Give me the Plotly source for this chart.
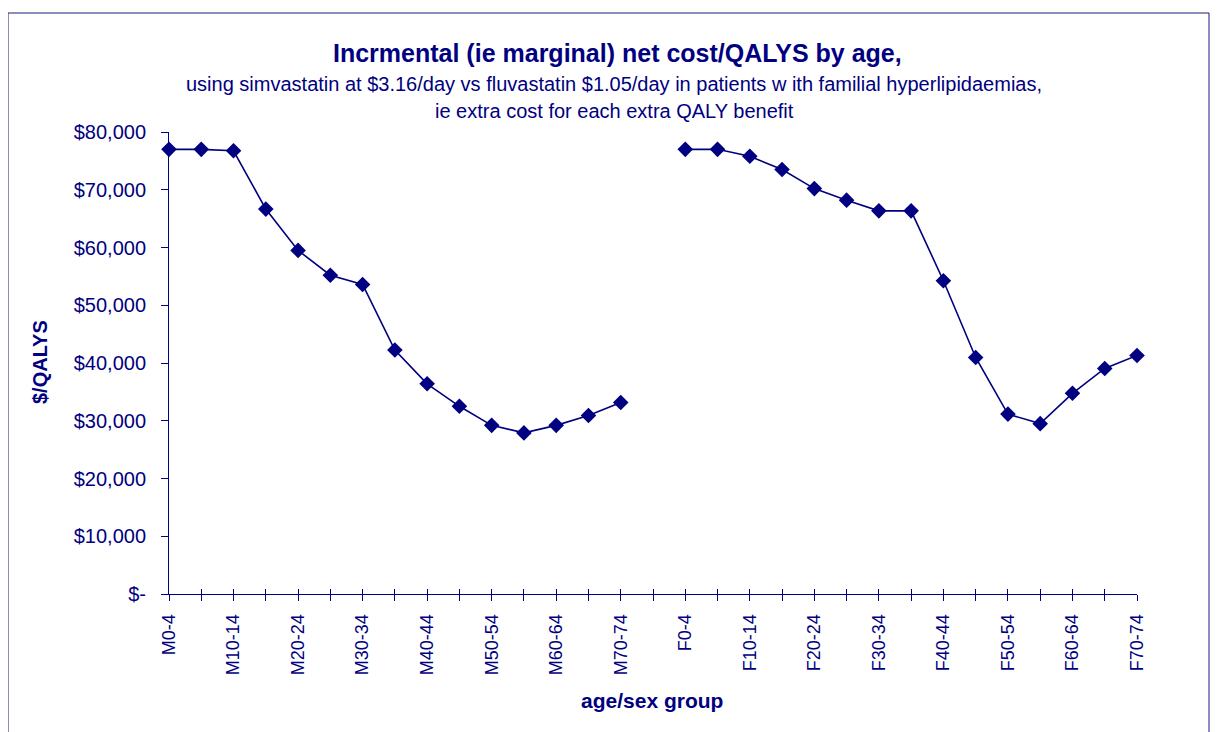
import plotly.graph_objects as go

male_groups = ["M0-4", "M5-9", "M10-14", "M15-19", "M20-24", "M25-29", "M30-34", "M35-39",
               "M40-44", "M45-49", "M50-54", "M55-59", "M60-64", "M65-69", "M70-74"]
female_groups = ["F0-4", "F5-9", "F10-14", "F15-19", "F20-24", "F25-29", "F30-34", "F35-39",
                 "F40-44", "F45-49", "F50-54", "F55-59", "F60-64", "F65-69", "F70-74"]
male_values = [77000, 77000, 76750, 66650, 59500, 55200, 53600, 42250,
               36400, 32500, 29200, 27900, 29200, 30900, 33150]
female_values = [77000, 77000, 75800, 73500, 70200, 68200, 66350, 66350,
                 54250, 40950, 31150, 29500, 34750, 39050, 41300]
gap_label = " "
y_tick_vals = [0, 10000, 20000, 30000, 40000, 50000, 60000, 70000, 80000]
y_tick_text = ["$-", "$10,000", "$20,000", "$30,000", "$40,000", "$50,000", "$60,000", "$70,000", "$80,000"]

categories = male_groups + [gap_label] + female_groups
shown = set(male_groups[::2] + female_groups[::2])
tick_text = [c if c in shown else "" for c in categories]

NAVY = "#000080"
FONT = "Arial, Liberation Sans, sans-serif"

fig = go.Figure()
for xs, ys in ((male_groups, male_values), (female_groups, female_values)):
    fig.add_trace(go.Scatter(x=xs, y=ys, mode="lines+markers",
                             line=dict(color=NAVY, width=1.6),
                             marker=dict(symbol="diamond", size=12, color=NAVY),
                             showlegend=False, cliponaxis=False))

# empty helper trace so an overlaid axis can draw the inner half of the crossing x ticks
fig.add_trace(go.Scatter(x=categories, y=[None] * len(categories), xaxis="x2",
                         mode="lines", showlegend=False, hoverinfo="skip"))

# page has an 8px body margin; figure sized so the plot area lands where the reference has it
fig.update_layout(
    width=1211, height=724,
    margin=dict(l=161, r=82, t=124, b=138),
    paper_bgcolor="white", plot_bgcolor="white",
    font=dict(family=FONT, color=NAVY),
    xaxis=dict(type="category", categoryorder="array", categoryarray=categories,
               range=[0, len(categories) - 1],
               tickmode="array", tickvals=categories, ticktext=tick_text,
               tickangle=-90, tickfont=dict(size=18, color=NAVY, family=FONT),
               ticks="outside", ticklen=6, tickcolor=NAVY, tickwidth=1,
               ticklabelstandoff=6,
               showline=True, linecolor=NAVY, linewidth=1, showgrid=False, zeroline=False),
    xaxis2=dict(type="category", categoryorder="array", categoryarray=categories,
                range=[0, len(categories) - 1], overlaying="x", side="bottom",
                tickmode="array", tickvals=categories, ticktext=[""] * len(categories),
                ticks="inside", ticklen=5, tickcolor=NAVY, tickwidth=1,
                showticklabels=False, showline=False, showgrid=False, zeroline=False),
    yaxis=dict(range=[0, 80000], tickmode="array", tickvals=y_tick_vals, ticktext=y_tick_text,
               tickfont=dict(size=20, color=NAVY, family=FONT),
               ticks="outside", ticklen=7, tickcolor=NAVY, tickwidth=1,
               ticklabelstandoff=11,
               showline=True, linecolor=NAVY, linewidth=1, showgrid=False, zeroline=False),
)

def px_x(p):
    return (p - 169) / 968.0

def px_y(p):
    return (594 - p) / 462.0

fig.add_shape(type="rect", xref="paper", yref="paper",
              x0=px_x(8), x1=px_x(1209), y0=px_y(760), y1=px_y(13),
              line=dict(color="#1a1a80", width=1), fillcolor="rgba(0,0,0,0)", layer="below")

def label(text, x, y, size, angle=0):
    fig.add_annotation(text=text, xref="paper", yref="paper", x=px_x(x), y=px_y(y),
                       xanchor="center", yanchor="middle", textangle=angle,
                       showarrow=False, font=dict(size=size, color=NAVY, family=FONT))

label("<b>Incrmental (ie marginal) net cost/QALYS by age,</b>", 617, 53, 25)
label("using simvastatin at $3.16/day vs fluvastatin $1.05/day in patients w ith familial hyperlipidaemias,", 614, 84, 20)
label("ie extra cost for each extra QALY benefit", 614, 111, 20)
label("<b>age/sex group</b>", 652, 700, 21)
label("<b>$/QALYS</b>", 40, 362, 20, angle=-90)

fig.write_html("out.html")
